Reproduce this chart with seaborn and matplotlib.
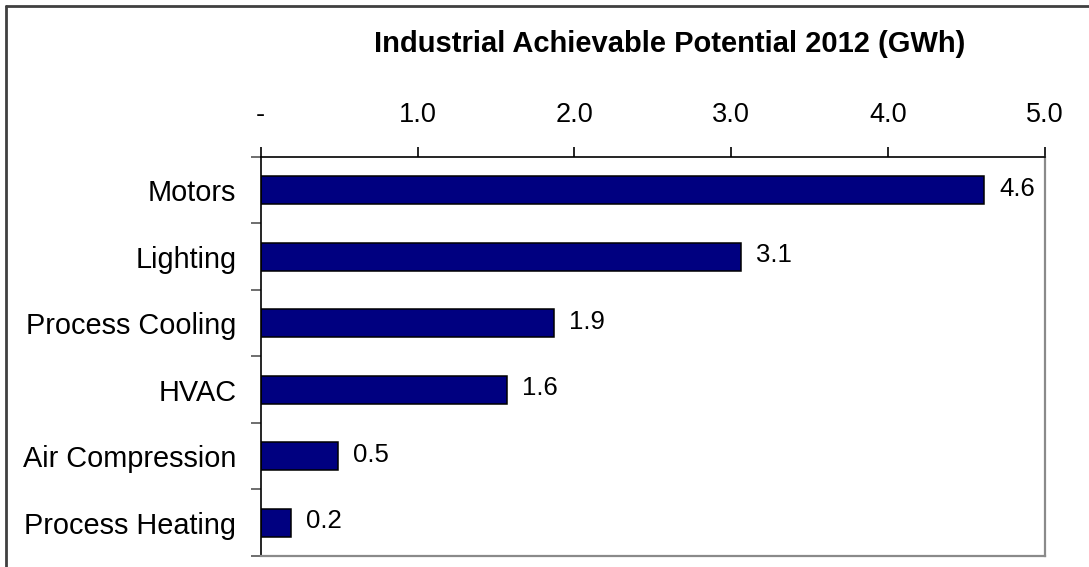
import matplotlib
matplotlib.use("Agg")
import matplotlib.pyplot as plt
from matplotlib.lines import Line2D
from matplotlib.ticker import FixedLocator
import seaborn as sns
import pandas as pd

# Industrial achievable savings potential by end use, 2012 (GWh)
categories = ["Motors", "Lighting", "Process Cooling", "HVAC",
              "Air Compression", "Process Heating"]
potential_gwh = [4.61, 3.06, 1.87, 1.57, 0.49, 0.19]
x_ticks = [0, 1, 2, 3, 4, 5]
x_tick_labels = ["-", "1.0", "2.0", "3.0", "4.0", "5.0"]
title = "Industrial Achievable Potential 2012 (GWh)"

sns.set_theme(style="white")
plt.rcParams["font.family"] = ["Liberation Sans", "DejaVu Sans"]

W, H = 1089, 567
fig = plt.figure(figsize=(W / 100, H / 100), dpi=100)
ax = fig.add_axes([260.7 / W, 1 - 556 / H, (1045 - 260.7) / W, (556 - 156.7) / H])

df = pd.DataFrame({"category": categories, "gwh": potential_gwh})
sns.barplot(data=df, x="gwh", y="category", orient="h", color="#000080",
            saturation=1, edgecolor="black", linewidth=1.1, width=0.42, ax=ax)

ax.set_xlim(0, 5)
ax.set_ylim(len(categories) - 0.5, -0.5)
ax.set_xlabel("")
ax.set_ylabel("")

# Value axis on top
ax.xaxis.tick_top()
ax.set_xticks(x_ticks)
ax.set_xticklabels(x_tick_labels, fontsize=19.5, color="black")
ax.tick_params(axis="x", which="major", direction="out", length=7, width=1.2,
               color="black", pad=14, top=True, bottom=False)

# Category labels centred, tick marks on category boundaries
ax.set_yticks(range(len(categories)))
ax.set_yticklabels(categories, fontsize=20.8, color="black")
ax.yaxis.set_minor_locator(FixedLocator([i - 0.5 for i in range(len(categories) + 1)]))
ax.tick_params(axis="y", which="major", length=0, pad=17.5)
ax.tick_params(axis="y", which="minor", direction="out", length=7.5, width=1.2,
               color="#555555", left=True)

for side in ["top", "left"]:
    ax.spines[side].set_color("black")
    ax.spines[side].set_linewidth(1.2)
for side in ["right", "bottom"]:
    ax.spines[side].set_color("#8a8a8a")
    ax.spines[side].set_linewidth(1.6)
ax.grid(False)

# Value labels beside each bar
for i, v in enumerate(potential_gwh):
    ax.annotate(f"{v:.1f}", xy=(v, i), xytext=(11, 1), textcoords="offset points",
                ha="left", va="center", fontsize=18.5, color="black")

fig.text(670 / W, 1 - 44 / H, title, ha="center", va="center",
         fontsize=21, fontweight="bold", color="black")

# Chart frame
frame_kw = dict(color="#404040", linewidth=2, transform=fig.transFigure)
fig.add_artist(Line2D([6 / W, 6 / W], [-0.1, 1 - 6 / H], **frame_kw))
fig.add_artist(Line2D([6 / W, 1.1], [1 - 6 / H, 1 - 6 / H], **frame_kw))

fig.savefig("out.png", dpi=100, facecolor="white")
